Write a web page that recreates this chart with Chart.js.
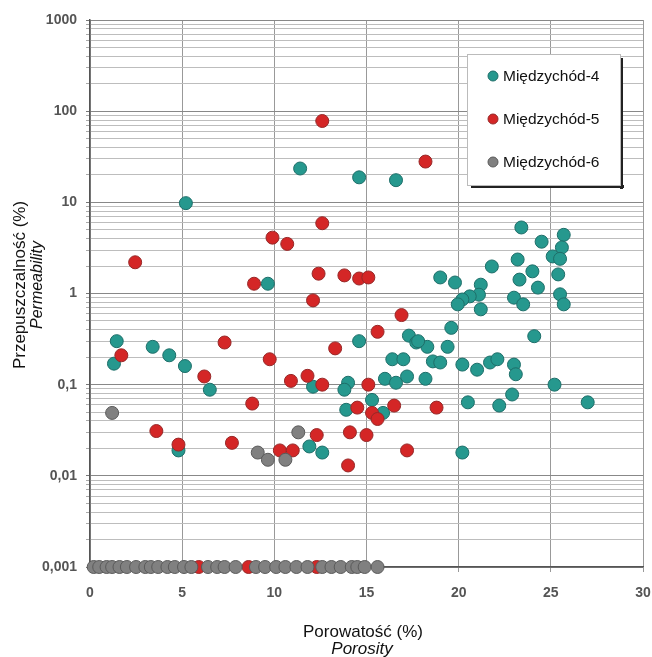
<!DOCTYPE html>
<html>
<head>
<meta charset="utf-8">
<script src="https://cdn.jsdelivr.net/npm/chart.js@4/dist/chart.umd.min.js"></script>
<style>
	html, body { margin: 0; padding: 0; background: #fff; }
	#wrap { width: 652px; height: 657px; }
</style>
</head>
<body>
<div id="wrap"><canvas id="chart" width="652" height="657"></canvas></div>
<script>
// Series names
const seriesNames = [ 'Międzychód-4', 'Międzychód-5', 'Międzychód-6' ];

// Międzychód-4 (porosity %, permeability)
const m4Porosity = [
	5.2, 11.4, 14.6, 16.6, 9.65, 1.45, 1.3, 3.4, 4.3, 5.15, 6.5, 4.8,
	14.6, 12.1, 14.0, 13.8, 13.9, 15.3, 15.9, 11.9, 12.6,
	16.4, 17.0, 17.3, 17.7, 18.3, 16.0, 16.6, 17.2, 18.2, 18.6, 19.0,
	23.4, 24.5, 25.7, 25.6, 25.1, 25.5, 23.2, 21.8, 24.0, 25.4, 23.3, 24.3,
	19.0, 19.8, 21.2, 21.1, 20.6, 20.2, 19.95, 21.2, 23.0, 23.5, 25.5, 25.7,
	19.6, 24.1, 19.4, 20.2, 21.0, 21.7, 22.1, 23.0, 23.1, 25.2, 22.9, 20.5,
	22.2, 27.0, 20.2, 17.8
];
const m4Perm = [
	9.8, 23.5, 18.8, 17.5, 1.28, 0.30, 0.17, 0.26, 0.21, 0.16, 0.088, 0.019,
	0.30, 0.095, 0.105, 0.088, 0.053, 0.068, 0.049, 0.021, 0.018,
	0.19, 0.19, 0.345, 0.29, 0.26, 0.116, 0.105, 0.123, 0.116, 0.18, 0.175,
	5.3, 3.7, 4.4, 3.2, 2.55, 2.4, 2.36, 1.98, 1.75, 1.62, 1.42, 1.16,
	1.5, 1.32, 1.25, 0.97, 0.93, 0.86, 0.76, 0.67, 0.90, 0.76, 0.98, 0.76,
	0.42, 0.34, 0.26, 0.166, 0.146, 0.175, 0.19, 0.166, 0.13, 0.10, 0.078, 0.064,
	0.059, 0.064, 0.018, 0.30
];

// Międzychód-5
const m5Porosity = [
	12.6, 18.2, 9.9, 10.7, 12.6, 2.45, 8.9, 12.4, 12.1, 13.8, 14.6, 15.1,
	16.9, 15.6, 13.3, 9.75, 10.9, 11.8, 12.6, 15.1, 14.5, 15.3, 15.6, 16.5,
	18.8, 14.1, 15.0, 12.3, 10.3, 11.0, 17.2, 14.0, 7.3, 1.7, 6.2, 8.8,
	3.6, 4.8, 7.7, 5.9, 8.6, 12.3
];
const m5Perm = [
	78, 28, 4.1, 3.5, 5.9, 2.2, 1.28, 1.65, 0.84, 1.58, 1.46, 1.5,
	0.58, 0.38, 0.25, 0.19, 0.11, 0.125, 0.10, 0.10, 0.056, 0.049, 0.042, 0.059,
	0.056, 0.030, 0.028, 0.028, 0.019, 0.019, 0.019, 0.013, 0.29, 0.21, 0.123, 0.062,
	0.031, 0.022, 0.023, 0.001, 0.001, 0.001
];

// Międzychód-6
const m6Porosity = [
	1.2, 9.1, 9.65, 10.6, 11.3,
	0.2, 0.5, 0.9, 1.2, 1.6, 2.0, 2.5, 3.0, 3.3, 3.7, 4.2, 4.6, 5.1, 5.5,
	6.4, 6.9, 7.3, 7.9, 9.0, 9.5, 10.1, 10.6, 11.2, 11.8, 12.6, 13.1, 13.6,
	14.2, 14.5, 14.9, 15.6
];
const m6Perm = [
	0.049, 0.018, 0.015, 0.015, 0.030,
	0.001, 0.001, 0.001, 0.001, 0.001, 0.001, 0.001, 0.001, 0.001, 0.001, 0.001, 0.001, 0.001, 0.001,
	0.001, 0.001, 0.001, 0.001, 0.001, 0.001, 0.001, 0.001, 0.001, 0.001, 0.001, 0.001, 0.001,
	0.001, 0.001, 0.001, 0.001
];

// Axis ticks
const xTicks = [ 0, 5, 10, 15, 20, 25, 30 ];
const yDecades = [ 0.001, 0.01, 0.1, 1, 10, 100, 1000 ];
const yTickLabels = [ '0,001', '0,01', '0,1', '1', '10', '100', '1000' ];

const toPoints = ( xs, ys ) => xs.map( ( x, i ) => ( { x: x, y: ys[i] } ) );

const decadeIndex = v => {
	const l = Math.log10( v );
	return yDecades.findIndex( d => Math.abs( Math.log10( d ) - l ) < 1e-6 );
};

const FONT = '"Liberation Sans", Arial, sans-serif';

// Titles and the boxed legend inside the plot
const decorPlugin = {
	id: 'decor',
	afterDraw( chart ) {
		const ctx = chart.ctx;
		ctx.save();
		ctx.fillStyle = '#111';
		ctx.textAlign = 'center';
		ctx.textBaseline = 'middle';

		ctx.save();
		ctx.translate( 20, 285 );
		ctx.rotate( -Math.PI / 2 );
		ctx.font = '17px ' + FONT;
		ctx.fillText( 'Przepuszczalność (%)', 0, 0 );
		ctx.font = 'italic 16px ' + FONT;
		ctx.fillText( 'Permeability', 0, 18 );
		ctx.restore();

		ctx.font = '17px ' + FONT;
		ctx.fillText( 'Porowatość (%)', 363, 632 );
		ctx.font = 'italic 17px ' + FONT;
		ctx.fillText( 'Porosity', 362, 649 );

		// legend
		const bx = 467, by = 54, bw = 153, bh = 131;
		ctx.fillStyle = '#222';
		ctx.fillRect( bx + bw, by + 4, 3, bh );
		ctx.fillRect( bx + 4, by + bh, bw, 3 );
		ctx.fillStyle = '#fff';
		ctx.fillRect( bx, by, bw, bh );
		ctx.strokeStyle = '#bbb';
		ctx.lineWidth = 1;
		ctx.strokeRect( bx + 0.5, by + 0.5, bw, bh );

		ctx.textAlign = 'left';
		ctx.font = '15.5px ' + FONT;
		chart.data.datasets.forEach( ( ds, i ) => {
			const y = by + 22 + i * 43;
			ctx.beginPath();
			ctx.arc( bx + 26, y, 5, 0, Math.PI * 2 );
			ctx.fillStyle = ds.backgroundColor;
			ctx.fill();
			ctx.strokeStyle = ds.borderColor;
			ctx.lineWidth = 1;
			ctx.stroke();
			ctx.fillStyle = '#111';
			ctx.fillText( ds.label, bx + 36, y + 1 );
		} );
		ctx.restore();
	}
};

new Chart( document.getElementById( 'chart' ), {
	type: 'scatter',
	data: {
		datasets: [
			{
				label: seriesNames[0],
				data: toPoints( m4Porosity, m4Perm ),
				backgroundColor: 'rgb(38,152,142)',
				borderColor: 'rgb(30,110,105)',
				order: 3
			},
			{
				label: seriesNames[1],
				data: toPoints( m5Porosity, m5Perm ),
				backgroundColor: 'rgb(212,38,38)',
				borderColor: 'rgb(150,40,40)',
				order: 2
			},
			{
				label: seriesNames[2],
				data: toPoints( m6Porosity, m6Perm ),
				backgroundColor: 'rgb(128,128,128)',
				borderColor: 'rgb(90,90,90)',
				order: 1
			}
		]
	},
	options: {
		responsive: false,
		animation: false,
		layout: { padding: { top: 20, right: 9, left: 0, bottom: 0 } },
		elements: { point: { radius: 6.5, borderWidth: 1, hoverRadius: 6.5 } },
		datasets: { scatter: { clip: false } },
		plugins: {
			legend: { display: false },
			tooltip: { enabled: false }
		},
		scales: {
			x: {
				type: 'linear',
				min: 0,
				max: 30,
				afterFit: scale => {
					scale.height = 90;
					scale.paddingLeft = 0;
					scale.paddingRight = 0;
				},
				afterBuildTicks: scale => { scale.ticks = xTicks.map( v => ( { value: v } ) ); },
				ticks: {
					padding: 13,
					font: { family: FONT, size: 14, weight: 'bold' },
					color: '#555'
				},
				grid: {
					color: '#999',
					tickColor: '#999',
					tickLength: 5
				},
				border: { color: '#555', width: 1.5 }
			},
			y: {
				type: 'logarithmic',
				min: 0.001,
				max: 1000,
				afterFit: scale => {
					scale.width = 90;
					scale.paddingTop = 0;
					scale.paddingBottom = 0;
				},
				afterBuildTicks: scale => {
					const ticks = [];
					yDecades.forEach( ( d, i ) => {
						if ( i === yDecades.length - 1 ) {
							ticks.push( { value: d } );
							return;
						}
						for ( let k = 1; k < 10; k++ ) {
							ticks.push( { value: d * k } );
						}
					} );
					scale.ticks = ticks;
				},
				ticks: {
					autoSkip: false,
					padding: 9,
					font: { family: FONT, size: 14, weight: 'bold' },
					color: '#555',
					callback: v => {
						const i = decadeIndex( v );
						return i >= 0 ? yTickLabels[i] : '';
					}
				},
				grid: {
					color: c => decadeIndex( c.tick.value ) >= 0 ? '#888' : '#bdbdbd',
					tickColor: c => decadeIndex( c.tick.value ) >= 0 ? '#777' : '#aaa',
					tickLength: 4
				},
				border: { color: '#555', width: 1.5 }
			}
		}
	},
	plugins: [ decorPlugin ]
} );
</script>
</body>
</html>
